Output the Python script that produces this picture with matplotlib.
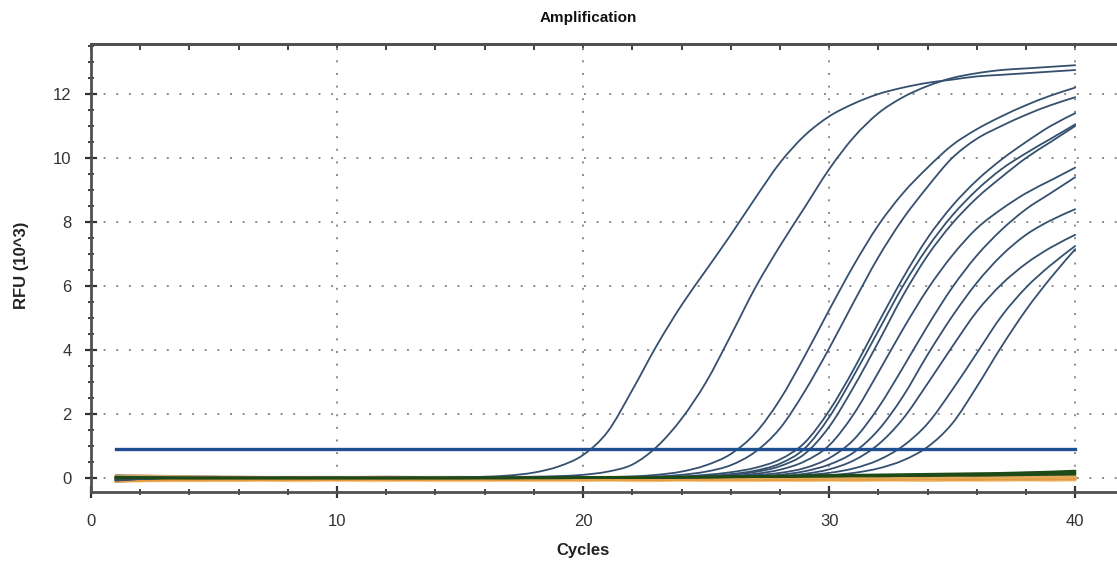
import matplotlib
matplotlib.use("Agg")
import matplotlib.pyplot as plt
from matplotlib.path import Path
from matplotlib.patches import PathPatch
from matplotlib.ticker import MultipleLocator

plt.rcParams["font.family"] = ["Liberation Sans", "DejaVu Sans"]

# ============================================================
# data (RFU x 10^3)
# ============================================================
cycles = list(range(1, 41))
threshold = 0.9

well_a = [-0.06, -0.03, -0.01, 0.00, 0.00, 0.01, 0.00, 0.00, 0.00, 0.01,
          0.00, 0.00, 0.01, 0.01, 0.02, 0.04, 0.08, 0.17, 0.36, 0.72,
          1.45, 2.75, 4.15, 5.40, 6.50, 7.60, 8.75, 9.85, 10.70, 11.30,
          11.70, 12.00, 12.20, 12.35, 12.45, 12.55, 12.60, 12.65, 12.70, 12.75]
well_b = [-0.05, -0.02, 0.00, 0.00, 0.01, 0.00, 0.00, 0.01, 0.00, 0.00,
          0.00, 0.01, 0.00, 0.00, 0.01, 0.01, 0.02, 0.04, 0.06, 0.10,
          0.20, 0.42, 0.98, 1.85, 3.00, 4.45, 5.95, 7.25, 8.45, 9.65,
          10.65, 11.40, 11.90, 12.25, 12.50, 12.65, 12.75, 12.80, 12.85, 12.90]
well_c = [-0.04, -0.02, 0.00, 0.01, 0.00, 0.00, 0.01, 0.00, 0.00, 0.00,
          0.01, 0.00, 0.00, 0.00, 0.01, 0.00, 0.00, 0.01, 0.01, 0.02,
          0.03, 0.05, 0.10, 0.20, 0.40, 0.75, 1.40, 2.45, 3.80, 5.25,
          6.65, 7.90, 8.90, 9.70, 10.40, 10.90, 11.30, 11.65, 11.95, 12.20]
well_d = [-0.03, 0.00, 0.01, 0.00, 0.00, 0.01, 0.00, 0.00, 0.00, 0.01,
          0.00, 0.00, 0.01, 0.00, 0.00, 0.01, 0.00, 0.01, 0.01, 0.01,
          0.02, 0.03, 0.05, 0.10, 0.20, 0.40, 0.82, 1.55, 2.70, 4.05,
          5.50, 6.90, 8.10, 9.10, 10.00, 10.60, 11.00, 11.35, 11.65, 11.90]
well_e = [-0.08, -0.03, 0.00, 0.00, 0.01, 0.00, 0.00, 0.00, 0.01, 0.00,
          0.00, 0.01, 0.00, 0.00, 0.00, 0.01, 0.00, 0.00, 0.01, 0.01,
          0.02, 0.02, 0.03, 0.05, 0.10, 0.18, 0.32, 0.58, 1.10, 2.10,
          3.40, 4.85, 6.25, 7.50, 8.50, 9.30, 9.95, 10.50, 11.00, 11.40]
well_f = [-0.05, -0.01, 0.00, 0.01, 0.00, 0.00, 0.00, 0.01, 0.00, 0.00,
          0.01, 0.00, 0.00, 0.00, 0.01, 0.00, 0.00, 0.01, 0.00, 0.01,
          0.01, 0.02, 0.02, 0.03, 0.06, 0.12, 0.23, 0.45, 0.92, 1.90,
          3.20, 4.60, 6.00, 7.20, 8.20, 9.00, 9.65, 10.15, 10.60, 11.05]
well_g = [-0.04, -0.02, 0.00, 0.00, 0.00, 0.01, 0.00, 0.00, 0.01, 0.00,
          0.00, 0.00, 0.01, 0.00, 0.00, 0.00, 0.01, 0.00, 0.01, 0.01,
          0.01, 0.02, 0.02, 0.02, 0.05, 0.10, 0.19, 0.37, 0.75, 1.60,
          2.85, 4.25, 5.70, 6.95, 7.95, 8.75, 9.40, 10.00, 10.50, 11.00]
well_h = [-0.06, -0.02, 0.01, 0.00, 0.00, 0.00, 0.01, 0.00, 0.00, 0.01,
          0.00, 0.00, 0.00, 0.01, 0.00, 0.00, 0.01, 0.00, 0.00, 0.01,
          0.01, 0.01, 0.02, 0.02, 0.03, 0.06, 0.13, 0.26, 0.52, 1.02,
          2.00, 3.30, 4.65, 5.90, 6.95, 7.80, 8.40, 8.90, 9.30, 9.70]
well_i = [-0.03, -0.01, 0.00, 0.00, 0.01, 0.00, 0.00, 0.01, 0.00, 0.00,
          0.00, 0.01, 0.00, 0.00, 0.01, 0.00, 0.00, 0.00, 0.01, 0.01,
          0.01, 0.02, 0.02, 0.03, 0.03, 0.05, 0.09, 0.16, 0.31, 0.62,
          1.20, 2.20, 3.45, 4.75, 5.95, 6.95, 7.75, 8.40, 8.90, 9.40]
well_j = [-0.07, -0.03, 0.00, 0.00, 0.00, 0.01, 0.00, 0.00, 0.00, 0.01,
          0.00, 0.00, 0.01, 0.00, 0.00, 0.00, 0.01, 0.00, 0.01, 0.01,
          0.01, 0.02, 0.02, 0.02, 0.03, 0.03, 0.05, 0.10, 0.21, 0.42,
          0.80, 1.50, 2.55, 3.85, 5.05, 6.10, 6.95, 7.60, 8.05, 8.40]
well_k = [-0.04, -0.01, 0.01, 0.00, 0.00, 0.00, 0.01, 0.00, 0.00, 0.00,
          0.01, 0.00, 0.00, 0.01, 0.00, 0.00, 0.00, 0.01, 0.00, 0.01,
          0.01, 0.01, 0.02, 0.02, 0.02, 0.03, 0.03, 0.06, 0.13, 0.27,
          0.55, 1.05, 1.85, 2.95, 4.10, 5.20, 6.05, 6.70, 7.20, 7.60]
well_l = [-0.05, -0.02, 0.00, 0.01, 0.00, 0.00, 0.00, 0.01, 0.00, 0.00,
          0.00, 0.01, 0.00, 0.00, 0.01, 0.00, 0.00, 0.01, 0.01, 0.01,
          0.02, 0.02, 0.02, 0.03, 0.03, 0.03, 0.03, 0.05, 0.09, 0.16,
          0.30, 0.56, 1.00, 1.70, 2.75, 3.90, 5.05, 5.95, 6.65, 7.25]
well_m = [-0.06, -0.02, 0.00, 0.00, 0.01, 0.00, 0.00, 0.00, 0.01, 0.00,
          0.00, 0.00, 0.01, 0.00, 0.00, 0.01, 0.00, 0.00, 0.01, 0.01,
          0.01, 0.02, 0.02, 0.02, 0.03, 0.03, 0.03, 0.04, 0.05, 0.09,
          0.16, 0.30, 0.55, 0.97, 1.70, 2.85, 4.10, 5.25, 6.25, 7.15]

# non-amplified wells (flat baselines)
neg_orange_1 = [0.02, 0.03, 0.02, 0.01, 0.01, 0.00, 0.00, 0.01, 0.00, 0.00,
                0.00, 0.01, 0.00, -0.01, 0.00, 0.00, 0.01, 0.00, 0.00, 0.00,
                0.00, 0.01, 0.00, 0.00, 0.01, 0.00, 0.00, 0.01, 0.01, 0.00,
                0.01, 0.01, 0.00, 0.01, 0.01, 0.02, 0.01, 0.02, 0.02, 0.03]
neg_orange_2 = [-0.08, -0.07, -0.06, -0.06, -0.05, -0.05, -0.05, -0.05, -0.04, -0.05,
                -0.04, -0.04, -0.05, -0.04, -0.04, -0.04, -0.05, -0.04, -0.04, -0.04,
                -0.04, -0.04, -0.05, -0.04, -0.04, -0.04, -0.04, -0.05, -0.04, -0.04,
                -0.04, -0.04, -0.04, -0.03, -0.04, -0.04, -0.03, -0.04, -0.03, -0.03]
neg_tan = [0.05, 0.06, 0.05, 0.04, 0.03, 0.03, 0.02, 0.02, 0.02, 0.02,
           0.02, 0.03, 0.02, 0.02, 0.02, 0.01, 0.02, 0.02, 0.01, 0.01,
           0.02, 0.02, 0.01, 0.01, 0.02, 0.02, 0.01, 0.02, 0.02, 0.02,
           0.02, 0.03, 0.02, 0.02, 0.03, 0.03, 0.03, 0.04, 0.04, 0.04]
neg_light = [-0.10, -0.09, -0.08, -0.08, -0.08, -0.08, -0.07, -0.08, -0.08, -0.07,
             -0.08, -0.08, -0.07, -0.08, -0.08, -0.08, -0.07, -0.08, -0.08, -0.08,
             -0.07, -0.08, -0.08, -0.07, -0.08, -0.08, -0.08, -0.07, -0.08, -0.07,
             -0.08, -0.07, -0.07, -0.08, -0.07, -0.07, -0.07, -0.06, -0.07, -0.06]
neg_dark_1 = [0.08, 0.07, 0.06, 0.05, 0.04, 0.03, 0.02, 0.02, 0.01, 0.01,
              0.01, 0.00, 0.01, 0.00, 0.00, 0.01, 0.00, 0.00, 0.00, 0.01,
              0.00, 0.00, 0.01, 0.00, 0.00, 0.01, 0.01, 0.01, 0.02, 0.02,
              0.02, 0.03, 0.03, 0.03, 0.04, 0.04, 0.05, 0.05, 0.06, 0.06]
neg_dark_2 = [-0.12, -0.08, -0.05, -0.03, -0.02, -0.01, -0.01, 0.00, -0.01, 0.00,
              0.00, 0.00, -0.01, 0.00, 0.00, 0.00, 0.00, 0.00, 0.00, 0.00,
              0.00, 0.00, 0.00, 0.01, 0.00, 0.00, 0.01, 0.01, 0.01, 0.01,
              0.02, 0.02, 0.02, 0.03, 0.03, 0.03, 0.04, 0.04, 0.05, 0.05]
neg_green_1 = [0.03, 0.02, 0.01, 0.00, 0.00, 0.00, 0.00, 0.00, 0.00, 0.00,
               0.00, 0.00, 0.00, 0.00, 0.00, 0.00, 0.00, 0.00, 0.00, 0.01,
               0.01, 0.01, 0.02, 0.02, 0.03, 0.04, 0.05, 0.06, 0.07, 0.08,
               0.09, 0.10, 0.11, 0.12, 0.13, 0.14, 0.15, 0.17, 0.19, 0.22]
neg_green_2 = [0.01, 0.01, 0.00, 0.00, 0.00, 0.00, 0.00, 0.00, 0.00, 0.00,
               0.00, 0.00, 0.00, 0.00, 0.00, 0.00, 0.00, 0.01, 0.01, 0.01,
               0.01, 0.02, 0.02, 0.03, 0.03, 0.04, 0.05, 0.05, 0.06, 0.07,
               0.08, 0.08, 0.09, 0.10, 0.10, 0.11, 0.12, 0.13, 0.14, 0.16]
neg_green_3 = [0.00, 0.00, 0.00, 0.00, 0.00, 0.00, 0.00, 0.00, 0.00, 0.00,
               0.00, 0.00, 0.00, 0.00, 0.00, 0.01, 0.01, 0.01, 0.01, 0.01,
               0.02, 0.02, 0.02, 0.03, 0.03, 0.03, 0.04, 0.04, 0.05, 0.05,
               0.06, 0.06, 0.07, 0.07, 0.08, 0.08, 0.09, 0.10, 0.11, 0.12]

amplified = [well_a, well_b, well_c, well_d, well_e, well_f, well_g,
             well_h, well_i, well_j, well_k, well_l, well_m]
flat_orange = [(neg_light, "#F3C27E"), (neg_orange_2, "#E59A3C"),
               (neg_tan, "#C9A677"), (neg_orange_1, "#E3A85A")]
flat_dark = [neg_dark_1, neg_dark_2]
flat_green = [neg_green_3, neg_green_2, neg_green_1]


def smooth_trace(ax, xs, ys, **kw):
    # the instrument draws a smooth spline through the per-cycle readings;
    # do the same with cubic bezier segments (Catmull-Rom tangents)
    pts = list(zip(xs, ys))
    verts = [pts[0]]
    codes = [Path.MOVETO]
    n = len(pts)
    for i in range(n - 1):
        p0 = pts[i - 1] if i > 0 else pts[i]
        p1 = pts[i]
        p2 = pts[i + 1]
        p3 = pts[i + 2] if i + 2 < n else pts[i + 1]
        c1 = (p1[0] + (p2[0] - p0[0]) / 6, p1[1] + (p2[1] - p0[1]) / 6)
        c2 = (p2[0] - (p3[0] - p1[0]) / 6, p2[1] - (p3[1] - p1[1]) / 6)
        verts += [c1, c2, p2]
        codes += [Path.CURVE4] * 3
    ax.add_patch(PathPatch(Path(verts, codes), fill=False, capstyle="round", **kw))


# ============================================================
# figure
# ============================================================
fig = plt.figure(figsize=(11.17, 5.63), dpi=100)
ax = fig.add_axes([0.0815, 0.1261, 0.9185, 0.7957])

ax.set_xlim(0, 41.7)
ax.set_ylim(-0.4375, 13.5625)

ax.grid(True, which="major", color="#8a8a8a", linestyle=(0, (1, 5.5)), linewidth=1.4)
ax.set_axisbelow(True)

for vals in flat_dark:
    smooth_trace(ax, cycles, vals, edgecolor="#3a2a18", linewidth=1.4, zorder=2)
for vals, col in flat_orange:
    smooth_trace(ax, cycles, vals, edgecolor=col, linewidth=2.2, zorder=2)

for vals in amplified:
    smooth_trace(ax, cycles, vals, edgecolor="#35506f", linewidth=1.3, zorder=3)

for vals in flat_green:
    smooth_trace(ax, cycles, vals, edgecolor="#1e4a17", linewidth=1.8, zorder=4)

ax.plot([cycles[0], cycles[-1]], [threshold, threshold],
        color="#1f4f8f", linewidth=2.4, zorder=5)

# axes styling like the instrument software
for side in ["left", "bottom", "top"]:
    ax.spines[side].set_color("#505050")
    ax.spines[side].set_linewidth(2)
ax.spines["right"].set_visible(False)

ax.xaxis.set_major_locator(MultipleLocator(10))
ax.xaxis.set_minor_locator(MultipleLocator(2))
ax.yaxis.set_major_locator(MultipleLocator(2))
ax.yaxis.set_minor_locator(MultipleLocator(0.5))

ax.tick_params(axis="x", which="both", top=False, direction="inout", colors="#333333")
ax.tick_params(axis="y", which="both", right=False, direction="inout", colors="#333333")
ax.tick_params(which="major", length=8, width=1.6, labelsize=12, labelcolor="#333333")
ax.tick_params(which="minor", length=5, width=1.3)
ax.tick_params(axis="x", which="major", pad=12)
ax.tick_params(axis="y", which="major", pad=10)

# top edge only carries small inward ticks
top = ax.secondary_xaxis("top")
top.xaxis.set_major_locator(MultipleLocator(2))
top.tick_params(direction="in", length=4, width=1.3, colors="#333333", labeltop=False)
top.spines["top"].set_color("#505050")
top.spines["top"].set_linewidth(2)

fig.text(588 / 1117, 1 - 18 / 563, "Amplification", ha="center", va="center",
         fontsize=11, fontweight="bold", color="#111111")
fig.text(583 / 1117, 1 - 550 / 563, "Cycles", ha="center", va="center",
         fontsize=12, fontweight="bold", color="#222222")
fig.text(22 / 1117, 1 - 265 / 563, "RFU (10^3)", ha="center", va="center",
         rotation=90, fontsize=12, fontweight="bold", color="#222222")

fig.savefig("out.png", dpi=100)
plt.close(fig)
